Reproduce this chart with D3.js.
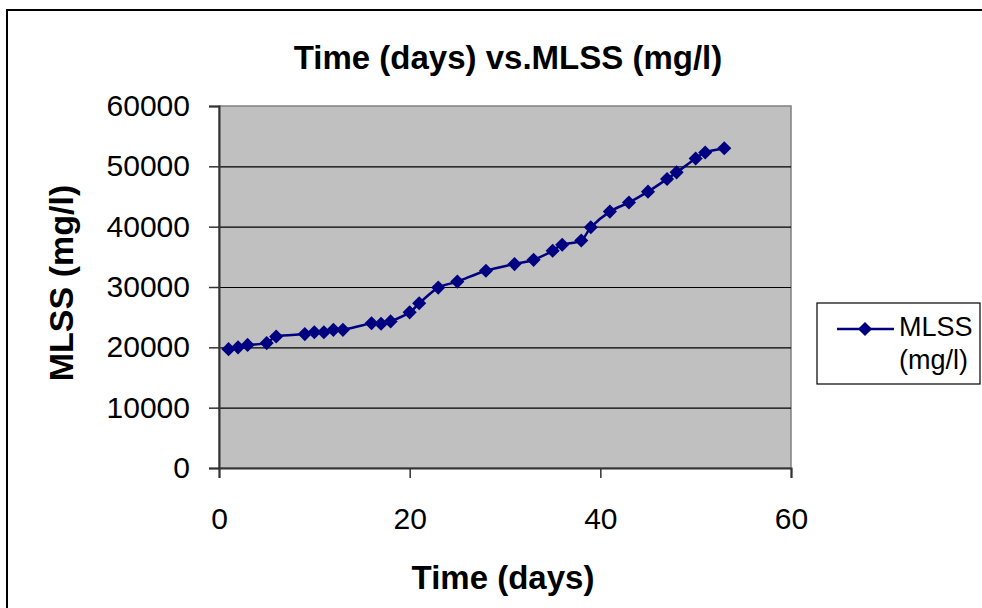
<!DOCTYPE html>
<html>
<head>
<meta charset="utf-8">
<script src="https://cdn.jsdelivr.net/npm/d3@7"></script>
<style>
  body { margin: 0; background: #fff; }
  text { font-family: Arial, "Liberation Sans", sans-serif; }
</style>
</head>
<body>
<div id="chart"></div>
<script>
// data
const days = [1, 2, 3, 5, 6, 9, 10, 11, 12, 13, 16, 17, 18, 20, 21, 23, 25, 28, 31, 33, 35, 36, 38, 39, 41, 43, 45, 47, 48, 50, 51, 53];
const mlss = [19700, 20000, 20400, 20700, 21800, 22200, 22500, 22500, 22900, 22900, 24000, 23900, 24300, 25800, 27300, 29900, 30900, 32700, 33800, 34500, 36000, 37000, 37700, 39900, 42500, 44000, 45800, 47900, 49000, 51300, 52300, 53000];
const xTicks = [0, 20, 40, 60];
const yTicks = [0, 10000, 20000, 30000, 40000, 50000, 60000];
const seriesName = ["MLSS", "(mg/l)"];

const points = days.map((d, i) => ({ day: d, value: mlss[i] }));

const svg = d3.select("#chart")
  .append("svg")
  .attr("width", 982)
  .attr("height", 608);

// outer frame
svg.append("rect")
  .attr("x", 7)
  .attr("y", 10)
  .attr("width", 1000)
  .attr("height", 700)
  .attr("fill", "none")
  .attr("stroke", "#000")
  .attr("stroke-width", 2);

const plotL = 219, plotR = 791, plotT = 106, plotB = 468;

const x = d3.scaleLinear().domain([0, 60]).range([plotL, plotR]);
const y = d3.scaleLinear().domain([0, 60000]).range([plotB, plotT]);

// plot area
svg.append("rect")
  .attr("x", plotL)
  .attr("y", plotT)
  .attr("width", plotR - plotL)
  .attr("height", plotB - plotT)
  .attr("fill", "#c0c0c0")
  .attr("stroke", "#808080")
  .attr("stroke-width", 1.5);

// gridlines
svg.append("g")
  .attr("transform", `translate(${plotL},0)`)
  .call(d3.axisLeft(y).tickValues(yTicks.slice(1, -1)).tickSize(-(plotR - plotL)).tickFormat(""))
  .call(g => g.select(".domain").remove())
  .call(g => g.selectAll("line").attr("stroke", "#000").attr("stroke-width", 1.2));

// y axis
svg.append("g")
  .attr("transform", `translate(${plotL},0)`)
  .call(d3.axisLeft(y).tickValues(yTicks).tickSize(10).tickPadding(19).tickFormat(d3.format("d")))
  .call(g => g.select(".domain").attr("stroke", "#333").attr("stroke-width", 2))
  .call(g => g.selectAll("line").attr("stroke", "#333").attr("stroke-width", 1.5))
  .call(g => g.selectAll("text").attr("font-size", 30).attr("fill", "#000")
    .attr("font-family", "Arial, 'Liberation Sans', sans-serif"));

// x axis
svg.append("g")
  .attr("transform", `translate(0,${plotB})`)
  .call(d3.axisBottom(x).tickValues(xTicks).tickSize(10).tickPadding(30))
  .call(g => g.select(".domain").attr("stroke", "#333").attr("stroke-width", 2))
  .call(g => g.selectAll("line").attr("stroke", "#333").attr("stroke-width", 1.5))
  .call(g => g.selectAll("text").attr("font-size", 30).attr("fill", "#000")
    .attr("font-family", "Arial, 'Liberation Sans', sans-serif"));

// series line
const line = d3.line()
  .x(d => x(d.day))
  .y(d => y(d.value))
  .curve(d3.curveCatmullRom.alpha(0));

svg.append("path")
  .datum(points)
  .attr("d", line)
  .attr("fill", "none")
  .attr("stroke", "#000080")
  .attr("stroke-width", 2.5);

const diamond = d3.symbol().type(d3.symbolSquare).size(100);

svg.selectAll(".marker")
  .data(points)
  .enter()
  .append("path")
  .attr("class", "marker")
  .attr("d", diamond)
  .attr("transform", d => `translate(${x(d.day)},${y(d.value)}) rotate(45)`)
  .attr("fill", "#000080");

// titles
svg.append("text")
  .attr("x", 508)
  .attr("y", 69)
  .attr("text-anchor", "middle")
  .attr("font-size", 33)
  .attr("font-weight", "bold")
  .text("Time (days) vs.MLSS (mg/l)");

svg.append("text")
  .attr("x", 503)
  .attr("y", 589)
  .attr("text-anchor", "middle")
  .attr("font-size", 33)
  .attr("font-weight", "bold")
  .text("Time (days)");

svg.append("text")
  .attr("transform", "translate(73,283) rotate(-90)")
  .attr("text-anchor", "middle")
  .attr("font-size", 34)
  .attr("font-weight", "bold")
  .text("MLSS (mg/l)");

// legend
const legend = svg.append("g");
legend.append("rect")
  .attr("x", 817)
  .attr("y", 303)
  .attr("width", 163)
  .attr("height", 81)
  .attr("fill", "#fff")
  .attr("stroke", "#000")
  .attr("stroke-width", 1.2);

legend.append("line")
  .attr("x1", 837)
  .attr("x2", 894)
  .attr("y1", 329)
  .attr("y2", 329)
  .attr("stroke", "#000080")
  .attr("stroke-width", 2.5);

legend.append("path")
  .attr("d", diamond)
  .attr("transform", "translate(865,329) rotate(45)")
  .attr("fill", "#000080");

legend.selectAll(".lg-text")
  .data(seriesName)
  .enter()
  .append("text")
  .attr("class", "lg-text")
  .attr("x", 899)
  .attr("y", (d, i) => 336 + i * 33)
  .attr("font-size", 27)
  .text(d => d);
</script>
</body>
</html>
